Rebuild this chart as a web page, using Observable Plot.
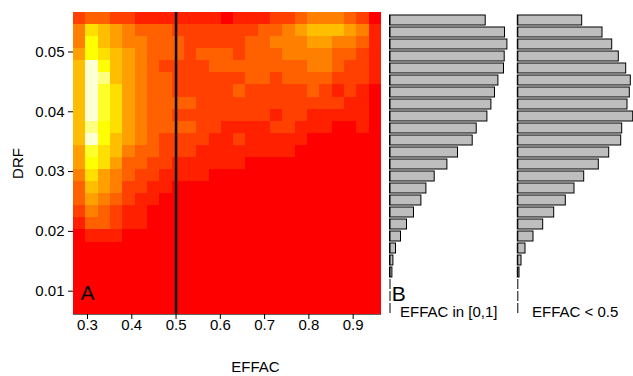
<!DOCTYPE html>
<html><head><meta charset="utf-8">
<script src="https://cdn.jsdelivr.net/npm/d3@7"></script>
<script src="https://cdn.jsdelivr.net/npm/@observablehq/plot@0.6"></script>
<style>
body{margin:0;background:#fff;}
#chart{position:relative;width:633px;height:376px;overflow:hidden;font-family:"Liberation Sans",Arial,Helvetica,sans-serif;}
#chart svg{position:absolute;top:0;}
</style></head><body><div id="chart"></div>
<script>
// ---- data ----
const effacRange = [0.2684, 0.964];   // EFFAC extent of the image grid
const drfRange = [0.0061, 0.0566];    // DRF extent of the image grid
// heat level per cell (hex digit 0..b), top row = highest DRF, left col = lowest EFFAC
const heatRows = [
  "2332211111110111223444320",
  "4765433322222223345666541",
  "4865443332222233444554431",
  "5876543332333233344443321",
  "6b86543222233333333443221",
  "6ba6543322222233233332221",
  "6b97543322222322222321210",
  "6b97543333222222222222110",
  "6b97543322222222122111110",
  "6a87543333221111221110010",
  "6b86543222211211111000000",
  "5976433222111111110000000",
  "5875332211111100000000000",
  "4754322111100000000000000",
  "3654221100000000000000000",
  "3543211000000000000000000",
  "2432110000000000000000000",
  "1332110000000000000000000",
  "0111000000000000000000000",
  "0000000000000000000000000",
  "0000000000000000000000000",
  "0000000000000000000000000",
  "0000000000000000000000000",
  "0000000000000000000000000",
  "0000000000000000000000000"
];
const heatPalette = ["#FF0000","#FF2000","#FF4000","#FF6000","#FF8000","#FF9F00",
                     "#FFBF00","#FFDF00","#FFFF00","#FFFF2A","#FFFF80","#FFFFD5"];
const effacTicks = [0.3, 0.4, 0.5, 0.6, 0.7, 0.8, 0.9];
const drfTicks = [0.01, 0.02, 0.03, 0.04, 0.05];
const cutLine = [0.5];
// histogram bars (relative counts), top bar = highest DRF bin
const barsAll = [95.7,115,117.4,114.7,114,108.4,105,101.4,97.4,86.7,82.7,68,57.4,44.7,36.4,31.4,24,17,11,6,3.4,2.4,0,0,0];
const barsLow = [64.4,84.7,94.4,101,108.4,113,112,109.7,115.4,104.4,103.4,91.4,81,66.4,56.7,48,36.4,25.4,15.7,7.7,3.7,1.7,0,0,0];
const panelTitles = ["EFFAC in [0,1]", "EFFAC < 0.5"];

// ---- build ----
const FONT = '"Liberation Sans", Arial, Helvetica, sans-serif';
const nCols = heatRows[0].length, nRows = heatRows.length;
const cw = (effacRange[1] - effacRange[0]) / nCols;
const ch = (drfRange[1] - drfRange[0]) / nRows;
const cells = heatRows.flatMap((row, r) => Array.from(row, (c, i) => ({
  x1: effacRange[0] + i * cw, x2: effacRange[0] + (i + 1) * cw,
  y1: drfRange[1] - (r + 1) * ch, y2: drfRange[1] - r * ch,
  level: parseInt(c, 16)
})));

const root = document.getElementById("chart");

const heat = Plot.plot({
  width: 385, height: 376,
  marginLeft: 73, marginRight: 4, marginTop: 12, marginBottom: 62,
  style: {fontFamily: FONT, fontSize: "15px", background: "transparent", overflow: "visible", color: "black"},
  x: {domain: effacRange},
  y: {domain: drfRange},
  color: {type: "ordinal", domain: d3.range(heatPalette.length), range: heatPalette},
  marks: [
    Plot.rect(cells, {x1: "x1", x2: "x2", y1: "y1", y2: "y2", fill: "level", shapeRendering: "crispEdges"}),
    Plot.ruleY([drfRange[0]], {stroke: "#666", strokeWidth: 1}),
    Plot.ruleX(cutLine, {stroke: "black", strokeWidth: 2.5}),
    Plot.axisX({ticks: effacTicks, tickSize: 5, tickPadding: 0, tickFormat: d3.format(".1f"), label: null}),
    Plot.axisY({ticks: drfTicks, tickSize: 5, tickPadding: 4, tickFormat: d3.format(".2f"), label: null}),
    Plot.text(["A"], {text: d => d, frameAnchor: "bottom-left", textAnchor: "start", lineAnchor: "bottom", dx: 7, dy: -14.7, fontSize: 21}),
    Plot.text(["EFFAC"], {text: d => d, frameAnchor: "bottom", textAnchor: "middle", lineAnchor: "bottom", dx: 28, dy: 57}),
    Plot.text(["DRF"], {text: d => d, frameAnchor: "left", rotate: -90, textAnchor: "middle", lineAnchor: "bottom", dx: -51})
  ]
});
heat.style.left = "0px";
root.appendChild(heat);

function barPanel(values, title, opts) {
  const data = values.map((v, i) => ({bin: i, value: v}));
  const marks = [
    Plot.barX(data, {x: "value", y: "bin", fill: "#BEBEBE", stroke: "black", strokeWidth: 1}),
    Plot.tickX(data, {x: 0, y: "bin", stroke: "black", strokeWidth: 1}),
    Plot.text([title], {text: d => d, frameAnchor: "bottom-left", textAnchor: "start", lineAnchor: "bottom", dx: opts.tdx, dy: -5.3, fontSize: 15})
  ];
  if (opts.letter) marks.push(Plot.text([opts.letter], {text: d => d, frameAnchor: "bottom-left", textAnchor: "start", lineAnchor: "bottom", dx: 1.7, dy: -22, fontSize: 21}));
  const p = Plot.plot({
    width: 124, height: 376,
    marginLeft: opts.ml, marginRight: 124 - opts.ml - opts.w, marginTop: 6.25, marginBottom: 54,
    style: {fontFamily: FONT, fontSize: "15px", background: "transparent", overflow: "visible", color: "black"},
    x: {domain: [0, d3.max(values)], axis: null},
    y: {type: "band", domain: d3.range(values.length), paddingInner: 0.1667, paddingOuter: 0.0833, axis: null},
    marks
  });
  p.style.left = opts.left + "px";
  return p;
}
root.appendChild(barPanel(barsAll, panelTitles[0], {left: 385, ml: 4.5, w: 117.4, tdx: 10, letter: "B"}));
root.appendChild(barPanel(barsLow, panelTitles[1], {left: 509, ml: 8.3, w: 115.4, tdx: 14.2}));
</script></body></html>
